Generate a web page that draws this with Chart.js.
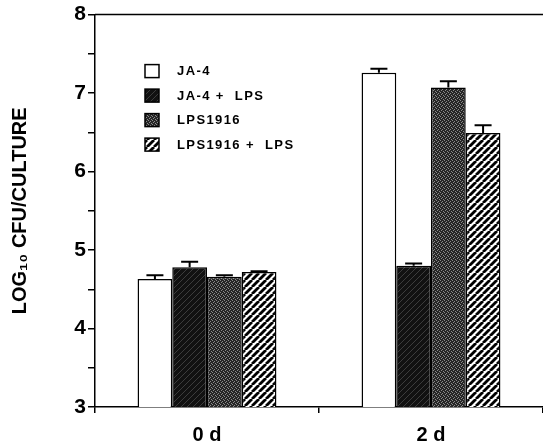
<!DOCTYPE html>
<html>
<head>
<meta charset="utf-8">
<script src="https://cdn.jsdelivr.net/npm/chart.js@4"></script>
<style>
  html, body { margin: 0; padding: 0; background: #fff; }
  #wrap { width: 543px; height: 444px; }
</style>
</head>
<body>
<div id="wrap"><canvas id="bar-chart" width="543" height="444"></canvas></div>
<script>
// data
const categories = ["0 d", "2 d"];
const seriesNames = ["JA-4", "JA-4 +  LPS", "LPS1916", "LPS1916 +  LPS"];
const ja4 = [4.63, 7.26];
const ja4Lps = [4.78, 4.80];
const lps1916 = [4.66, 7.07];
const lps1916Lps = [4.72, 6.49];
const ja4Err = [0.05, 0.05];
const ja4LpsErr = [0.07, 0.03];
const lps1916Err = [0.02, 0.08];
const lps1916LpsErr = [0.01, 0.10];

const FONT = "'Liberation Sans', Arial, sans-serif";

// fill patterns
function makePattern(size, draw) {
  const c = document.createElement("canvas");
  c.width = size;
  c.height = size;
  const g = c.getContext("2d");
  draw(g, size);
  return c.getContext("2d").createPattern(c, "repeat");
}
function diag(g, s, color, w) {
  g.strokeStyle = color;
  g.lineWidth = w;
  [-s, 0, s].forEach((o) => {
    g.beginPath();
    g.moveTo(o, s);
    g.lineTo(o + s, 0);
    g.stroke();
  });
}
const darkHatch = makePattern(6, (g, s) => {
  g.fillStyle = "#111";
  g.fillRect(0, 0, s, s);
  diag(g, s, "#3c3c3c", 1);
});
const stipple = makePattern(4, (g, s) => {
  g.fillStyle = "#262626";
  g.fillRect(0, 0, s, s);
  g.fillStyle = "#8a8a8a";
  [[0, 0], [2, 1], [1, 2], [3, 3]].forEach(([x, y]) => g.fillRect(x, y, 1, 1));
});
const stripes = makePattern(7, (g, s) => {
  g.fillStyle = "#fff";
  g.fillRect(0, 0, s, s);
  diag(g, s, "#000", 2.8);
});

const fills = ["#ffffff", darkHatch, stipple, stripes];
const values = [ja4, ja4Lps, lps1916, lps1916Lps];
const errors = [ja4Err, ja4LpsErr, lps1916Err, lps1916LpsErr];

// error bars (upper only)
const errorBars = {
  id: "errorBars",
  afterDatasetsDraw(chart) {
    const { ctx, scales: { y } } = chart;
    ctx.save();
    ctx.strokeStyle = "#000";
    ctx.lineWidth = 2;
    chart.data.datasets.forEach((ds, i) => {
      chart.getDatasetMeta(i).data.forEach((bar, j) => {
        const top = y.getPixelForValue(ds.data[j] + errors[i][j]);
        ctx.beginPath();
        ctx.moveTo(bar.x, bar.y);
        ctx.lineTo(bar.x, top);
        ctx.moveTo(bar.x - 8.5, top);
        ctx.lineTo(bar.x + 8.5, top);
        ctx.stroke();
      });
    });
    ctx.restore();
  },
};

// frame top line + legend inside plot
const frameAndLegend = {
  id: "frameAndLegend",
  afterDraw(chart) {
    const { ctx, chartArea: a } = chart;
    ctx.save();
    ctx.strokeStyle = "#000";
    ctx.lineWidth = 1.5;
    ctx.beginPath();
    ctx.moveTo(a.left, a.top);
    ctx.lineTo(a.right, a.top);
    ctx.stroke();

    ctx.font = "bold 13px " + FONT;
    ctx.letterSpacing = "1.4px";
    ctx.textBaseline = "middle";
    chart.data.datasets.forEach((ds, i) => {
      const x = a.left + 50;
      const y = a.top + 50 + i * 24.5;
      ctx.fillStyle = ds.backgroundColor;
      ctx.fillRect(x, y, 14, 13);
      ctx.lineWidth = 1.5;
      ctx.strokeRect(x, y, 14, 13);
      ctx.fillStyle = "#000";
      ctx.fillText(ds.label, x + 32, y + 7);
    });
    ctx.restore();
  },
};

const barCtx = document.getElementById("bar-chart").getContext("2d");
const barChart = new Chart(barCtx, {
  type: "bar",
  data: {
    labels: categories,
    datasets: seriesNames.map((name, i) => ({
      label: name,
      data: values[i],
      backgroundColor: fills[i],
      borderColor: "#000",
      borderWidth: 1.5,
      categoryPercentage: 0.62,
      barPercentage: 1,
    })),
  },
  options: {
    responsive: false,
    animation: false,
    layout: { padding: { top: 3, right: 0, bottom: 0, left: 0 } },
    plugins: { legend: { display: false }, tooltip: { enabled: false } },
    scales: {
      x: {
        afterFit: (s) => { s.height = 37; },
        border: { color: "#000", width: 1.5 },
        grid: { drawOnChartArea: false, color: "#000", tickLength: 6, lineWidth: 1.5 },
        ticks: { color: "#000", padding: 10, font: { family: FONT, size: 20, weight: "bold" } },
      },
      y: {
        min: 3,
        max: 8,
        afterFit: (s) => { s.width = 95; },
        border: { color: "#000", width: 1.5 },
        grid: { drawOnChartArea: false, color: "#000", tickLength: 7, lineWidth: 1.5 },
        ticks: {
          stepSize: 0.5,
          autoSkip: false,
          color: "#000",
          padding: 2,
          font: { family: FONT, size: 21, weight: "bold" },
          callback: (v) => (Number.isInteger(v) ? v : ""),
        },
        title: {
          display: true,
          text: "LOG₁₀ CFU/CULTURE",
          color: "#000",
          padding: { top: 8, bottom: 0 },
          font: { family: FONT, size: 20, weight: "bold" },
        },
      },
    },
  },
  plugins: [errorBars, frameAndLegend],
});
</script>
</body>
</html>
